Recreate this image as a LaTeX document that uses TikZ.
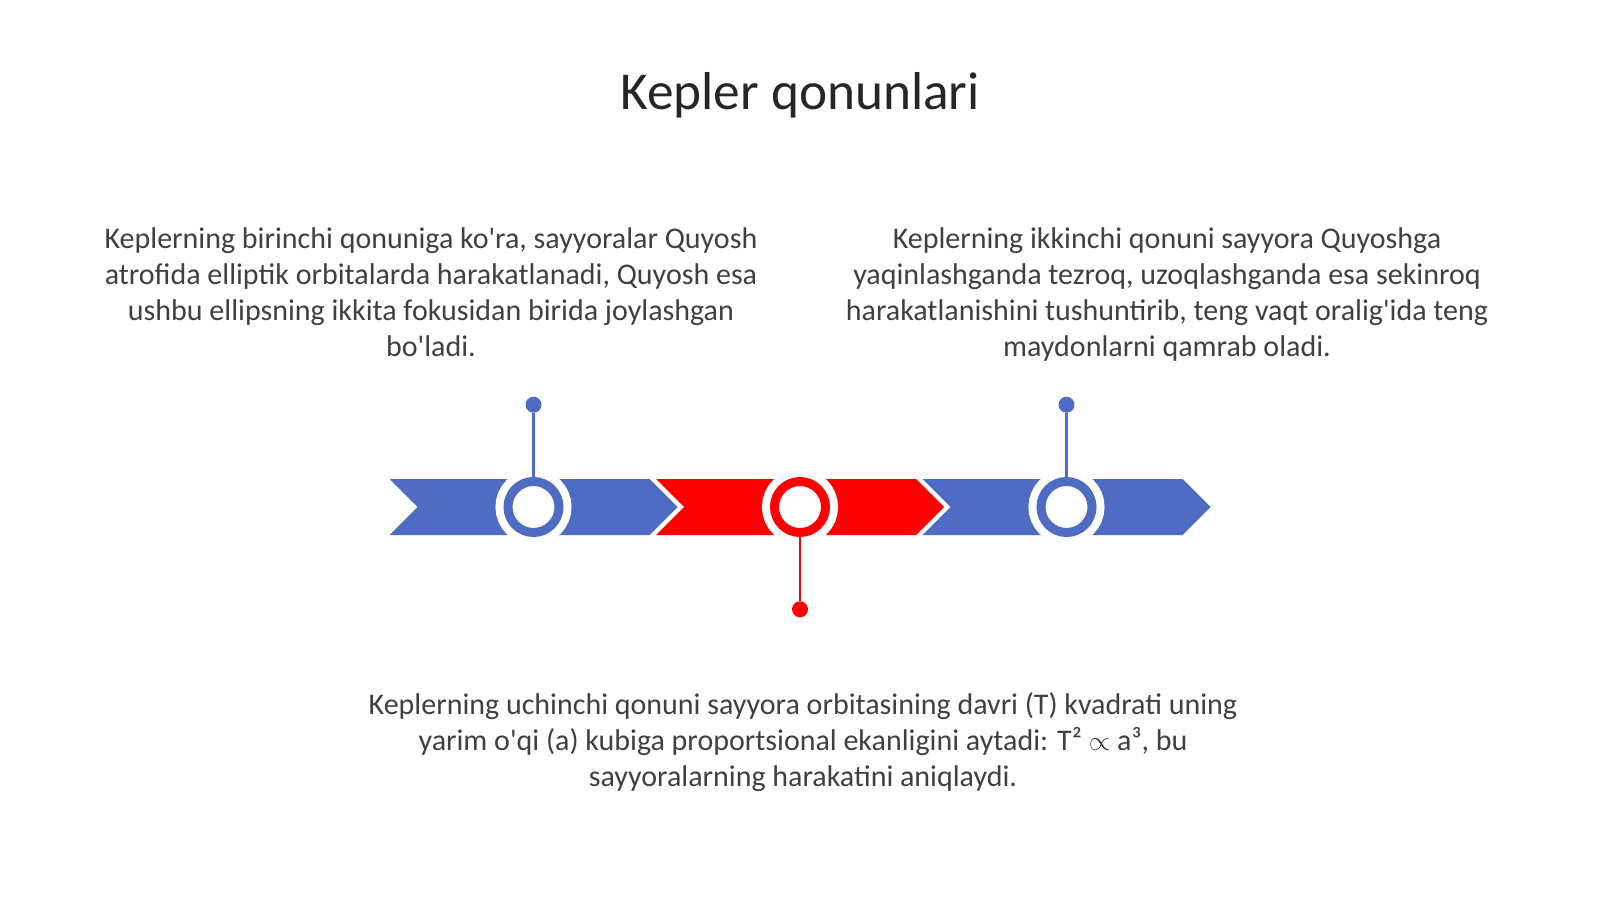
\documentclass[tikz,border=0pt]{standalone}
\usepackage{fontspec}
\setmainfont{Carlito}[Ligatures=TeXOff]
\usepackage{xcolor}
\usetikzlibrary{shapes.symbols,positioning}

\definecolor{lawblue}{RGB}{79,108,196}
\definecolor{lawred}{RGB}{255,0,0}
\definecolor{titlegray}{RGB}{38,38,38}
\definecolor{textgray}{RGB}{64,64,64}

\tikzset{
  chev/.style={signal, signal to=east, signal from=west, signal pointer angle=90,
    minimum width=216pt, minimum height=42pt, inner sep=0pt, outer sep=0pt, fill=#1},
  ring/.style={circle, draw=#1, fill=white, line width=6.75pt, minimum size=38.25pt,
    inner sep=0pt, preaction={draw=white, line width=18.75pt}},
  pin/.style={circle, fill=#1, minimum size=12pt, inner sep=0pt},
  stem/.style={draw=#1, line width=2pt},
  lawtext/.style={align=center, text=textgray, font=\fontsize{22.5}{27}\selectfont, inner sep=0pt, anchor=base}
}

\begin{document}
\begin{tikzpicture}[x=0.75pt, y=-0.75pt]
    \useasboundingbox[fill=white] (0,0) rectangle (1600,899);

    % Title
    \node[font=\fontsize{40}{48}\selectfont, text=titlegray, anchor=base] (title) at (800,109) {Kepler qonunlari};

    % Arrow band with the three rings
    \foreach \x/\c [count=\i] in {533.5/lawblue, 800/lawred, 1066.5/lawblue} {
        \node[chev=\c] (chev\i) at (\x,507) {};
        \node[ring=\c] (ring\i) at (\x,507) {};
    }

    % Pins
    \node[pin=lawblue, above=48pt of ring1] (pin1) {};
    \node[pin=lawred, below=48pt of ring2] (pin2) {};
    \node[pin=lawblue, above=48pt of ring3] (pin3) {};
    \draw[stem=lawblue] (pin1) -- (ring1);
    \draw[stem=lawred] (pin2) -- (ring2);
    \draw[stem=lawblue] (pin3) -- (ring3);

    % First law (base = last line)
    \node[lawtext] (first) at (431,356) {Keplerning birinchi qonuniga ko'ra, sayyoralar Quyosh\\
        atrofida elliptik orbitalarda harakatlanadi, Quyosh esa\\
        ushbu ellipsning ikkita fokusidan birida joylashgan\\
        bo'ladi.};

    % Second law
    \node[lawtext] (second) at (1167,356) {Keplerning ikkinchi qonuni sayyora Quyoshga\\
        yaqinlashganda tezroq, uzoqlashganda esa sekinroq\\
        harakatlanishini tushuntirib, teng vaqt oralig'ida teng\\
        maydonlarni qamrab oladi.};

    % Third law
    \node[lawtext] (third) at (803,786) {Keplerning uchinchi qonuni sayyora orbitasining davri (T) kvadrati uning\\
        yarim o'qi (a) kubiga proportsional ekanligini aytadi: T² $\propto$ a³, bu\\
        sayyoralarning harakatini aniqlaydi.};
\end{tikzpicture}
\end{document}
